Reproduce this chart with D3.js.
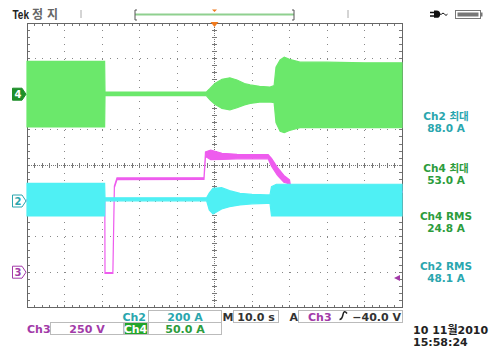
<!DOCTYPE html>
<html><head><meta charset="utf-8">
<script src="https://cdn.jsdelivr.net/npm/d3@7"></script>
<style>body{margin:0;background:#fff}svg{display:block}text{font-family:"DejaVu Sans","Noto Sans CJK KR",sans-serif;font-weight:bold}</style>
</head><body>
<script>
// ---- data (time in s, 10 s/div; envelopes as [t, max, min] in channel units) ----
const timeDomain = [0, 100];
const ch4Scale = 50, ch2Scale = 200, ch3Scale = 250;      // units per division
const ch4Pos = 2, ch2Pos = -1, ch3Pos = -3;                 // ground position (divisions from centre)
const ch4Env = [[0,46,-46],[20.7,46,-46],[20.8,3,-2],[47.8,3,-2],[48.8,8,-8],[50.1,15,-14],[52,21,-20],[54.1,23,-22],[56,20,-19],[58,15,-15],[59.5,13,-13],[62,11,-11],[64.8,10,-11],[65.9,12,-12],[66.4,38,-40],[67.5,48,-52],[68.6,52,-54],[70,49,-51],[72.8,45,-47],[80,45,-47],[90,44,-47],[100,44,-47]];
const ch2Env = [[0,99,-84],[20.7,99,-84],[20.8,18,1],[47.9,18,1],[48.6,45,-50],[49.6,71,-73],[51.9,75,-45],[54,58,-32],[56.8,43,-22],[60,37,-16],[64,34,-13],[64.8,34,-13],[65.2,80,-84],[66.5,94,-84],[80,94,-84],[100,94,-84]];
const ch3Env = [[0,510,500],[20.75,510,500],[20.8,-2,-8],[22.9,-2,-8],[23.3,605,595],[24,662,650],[47.2,664,652],[47.6,845,812],[49,858,790],[52,835,792],[56,828,796],[60,826,796],[64.3,826,796],[65.2,800,745],[66.8,735,680],[68.5,680,632],[70,648,620],[70.5,570,560],[100,570,560]];
const trigLevel = -40;  // V on Ch3
const readouts = [["Ch2 최대","88.0 A","#2aa6ae"],["Ch4 최대","53.0 A","#2c9c3c"],["Ch4 RMS","24.8 A","#2c9c3c"],["Ch2 RMS","48.1 A","#2aa6ae"]];
const readoutY = [119.5, 171.5, 219.5, 270];

const W = 493, H = 349;
const L = 27, R = 402, T = 23, B = 307.8;
const svg = d3.select("body").append("svg").attr("width", W).attr("height", H);
const x = d3.scaleLinear().domain(timeDomain).range([L, R]);
const yDiv = d3.scaleLinear().domain([4, -4]).range([T, B]);
const cyan = "#4ff0f4", green = "#6be86b", mag = "#ee5cee";
const cyanT = "#2aa6ae", greenT = "#2c9c3c", magT = "#a23aa8";

// ---- graticule ----
const g = svg.append("g").attr("shape-rendering", "crispEdges");
const dx = (R - L) / 50, dy = (B - T) / 40;
for (let i = 1; i < 10; i++) if (i !== 5) {
  const xx = L + i * (R - L) / 10;
  g.append("line").attr("x1", xx).attr("x2", xx).attr("y1", T).attr("y2", B)
    .attr("stroke", "#888").attr("stroke-dasharray", `1,${dy - 1}`);
}
for (let j = 1; j < 8; j++) if (j !== 4) {
  const yy = T + j * (B - T) / 8;
  g.append("line").attr("x1", L).attr("x2", R).attr("y1", yy).attr("y2", yy)
    .attr("stroke", "#888").attr("stroke-dasharray", `1,${dx - 1}`);
}
const cx = (L + R) / 2, cy = (T + B) / 2;
g.append("line").attr("x1", L).attr("x2", R).attr("y1", cy).attr("y2", cy).attr("stroke", "#777").attr("stroke-dasharray", "1,1");
g.append("line").attr("x1", cx).attr("x2", cx).attr("y1", T).attr("y2", B).attr("stroke", "#777").attr("stroke-dasharray", "1,1");
for (let k = 0; k <= 50; k++) {
  const xx = L + k * dx;
  g.append("line").attr("x1", xx).attr("x2", xx).attr("y1", cy - 2.5).attr("y2", cy + 2.5).attr("stroke", "#777");
  g.append("line").attr("x1", xx).attr("x2", xx).attr("y1", T).attr("y2", T + 3).attr("stroke", "#777");
  g.append("line").attr("x1", xx).attr("x2", xx).attr("y1", B - 3).attr("y2", B).attr("stroke", "#777");
}
for (let k = 0; k <= 40; k++) {
  const yy = T + k * dy;
  g.append("line").attr("y1", yy).attr("y2", yy).attr("x1", cx - 2.5).attr("x2", cx + 2.5).attr("stroke", "#777");
  g.append("line").attr("y1", yy).attr("y2", yy).attr("x1", L).attr("x2", L + 3).attr("stroke", "#777");
  g.append("line").attr("y1", yy).attr("y2", yy).attr("x1", R - 3).attr("x2", R).attr("stroke", "#777");
}

// ---- traces ----
function drawEnv(env, pos, scale, col) {
  const area = d3.area().x(d => x(d[0])).y0(d => yDiv(pos + d[2] / scale)).y1(d => yDiv(pos + d[1] / scale));
  svg.append("path").datum(env).attr("d", area).attr("fill", col).attr("stroke", col).attr("stroke-width", 1.2);
}
drawEnv(ch3Env, ch3Pos, ch3Scale, mag);
drawEnv(ch4Env, ch4Pos, ch4Scale, green);
drawEnv(ch2Env, ch2Pos, ch2Scale, cyan);

g.append("rect").attr("x", L).attr("y", T).attr("width", R - L).attr("height", B - T).attr("fill", "none").attr("stroke", "#666");

// trigger markers
svg.append("path").attr("d", `M${cx - 4},${T - 1}L${cx + 4},${T - 1}L${cx},${T + 4}Z`).attr("fill", "#f07a1e");
const ty = yDiv(ch3Pos + trigLevel / ch3Scale);
svg.append("path").attr("d", `M${R - 8},${ty}L${R - 2},${ty - 3}L${R - 2},${ty + 3}Z`).attr("fill", "#a23aa8");

// channel ground markers
function marker(pos, label, col, filled) {
  const yy = yDiv(pos);
  svg.append("path").attr("d", `M12.5,${yy - 6}H22L26,${yy}L22,${yy + 6}H12.5Z`)
    .attr("fill", filled ? col : "#fff").attr("stroke", col).attr("stroke-width", 1);
  svg.append("text").attr("x", 18).attr("y", yy + 4).attr("text-anchor", "middle").attr("font-size", 10)
    .attr("fill", filled ? "#fff" : col).text(label);
}
marker(ch4Pos, "4", "#1f8f2a", true);
marker(ch2Pos, "2", cyanT, false);
marker(ch3Pos, "3", magT, false);

// ---- header ----
svg.append("text").attr("x", 12.5).attr("y", 18.5).attr("font-size", 12.5)
  .attr("textLength", 16.5).attr("lengthAdjust", "spacingAndGlyphs")
  .style("font-family", "'Liberation Sans',sans-serif").attr("fill", "#222").text("Tek");
svg.append("text").attr("x", 32).attr("y", 18.5).attr("font-size", 12).attr("font-weight", "normal").attr("fill", "#666").attr("letter-spacing", 4).text("정지");
svg.append("line").attr("x1", 81).attr("x2", 81).attr("y1", 10).attr("y2", 18).attr("stroke", "#aaa");
svg.append("line").attr("x1", 348).attr("x2", 348).attr("y1", 10).attr("y2", 18).attr("stroke", "#aaa");
svg.append("line").attr("x1", 135).attr("x2", 294).attr("y1", 14.5).attr("y2", 14.5).attr("stroke", "#8fd08f").attr("stroke-width", 2);
svg.append("path").attr("d", "M137,10H135V20H137M292,10H294V20H292").attr("fill", "none").attr("stroke", "#555");
svg.append("path").attr("d", `M${cx - 2.5},9.5L${cx + 2.5},9.5L${cx},12Z`).attr("fill", "#f07a1e");
// plug icon
svg.append("path").attr("d", "M430,12.5H434M430,16H434").attr("stroke", "#111").attr("stroke-width", 1.3);
svg.append("path").attr("d", "M434,10.5H436.5A3.5,3.5 0 0 1 436.5,17.8H434Z").attr("fill", "#111");
svg.append("path").attr("d", "M440,14.2H441.5Q443,11.8 444.5,14.2T447.5,14.2").attr("fill", "none").attr("stroke", "#111").attr("stroke-width", 1);
// battery
svg.append("rect").attr("x", 455.5).attr("y", 10.5).attr("width", 25).attr("height", 8).attr("fill", "#fff").attr("stroke", "#777");
svg.append("rect").attr("x", 457.5).attr("y", 12.5).attr("width", 21).attr("height", 4).attr("fill", "#777");
svg.append("rect").attr("x", 480.5).attr("y", 12.5).attr("width", 2).attr("height", 4).attr("fill", "#777");

// ---- right readouts ----
readouts.forEach((r, i) => {
  svg.append("text").attr("x", 446).attr("y", readoutY[i]).attr("text-anchor", "middle").attr("font-size", 10.5).attr("fill", r[2]).text(r[0]);
  svg.append("text").attr("x", 446).attr("y", readoutY[i] + 12).attr("text-anchor", "middle").attr("font-size", 10.5).attr("fill", r[2]).text(r[1]);
});

// ---- bottom status boxes ----
function box(x0, x1, y0, y1, fill) {
  svg.append("rect").attr("x", x0 + 0.5).attr("y", y0 + 0.5).attr("width", x1 - x0).attr("height", y1 - y0)
    .attr("fill", fill || "#fff").attr("stroke", "#bbb");
}
function txt(xx, yy, s, col, anchor) {
  return svg.append("text").attr("x", xx).attr("y", yy).attr("font-size", 11).attr("fill", col).attr("text-anchor", anchor || "start").text(s);
}
box(148, 221, 310, 322); box(233, 278, 310, 322); box(298, 402, 310, 322);
box(50, 123, 322, 334); box(148, 221, 322, 334);
box(124, 147, 322, 334, "#22a52a");
txt(146, 320.5, "Ch2", cyanT, "end");
txt(185, 320.5, "200 A", cyanT, "middle");
txt(222.5, 320.5, "M", "#333");
txt(256, 320.5, "10.0 s", "#333", "middle");
txt(289.5, 320.5, "A", "#333");
txt(308, 320.5, "Ch3", magT);
svg.append("path").attr("d", "M339.5,319.5Q342,319.5 343,314.5T347,313.5").attr("fill", "none").attr("stroke", "#222").attr("stroke-width", 1.5);
txt(401, 320.5, "\u221240.0 V", "#333", "end");
txt(27, 332.5, "Ch3", magT);
txt(87, 332.5, "250 V", magT, "middle");
txt(135.5, 332.5, "Ch4", "#fff", "middle");
txt(185, 332.5, "50.0 A", greenT, "middle");
txt(413, 334, "10 11월2010", "#222");
txt(413, 345.5, "15:58:24", "#222");
</script>
</body></html>
